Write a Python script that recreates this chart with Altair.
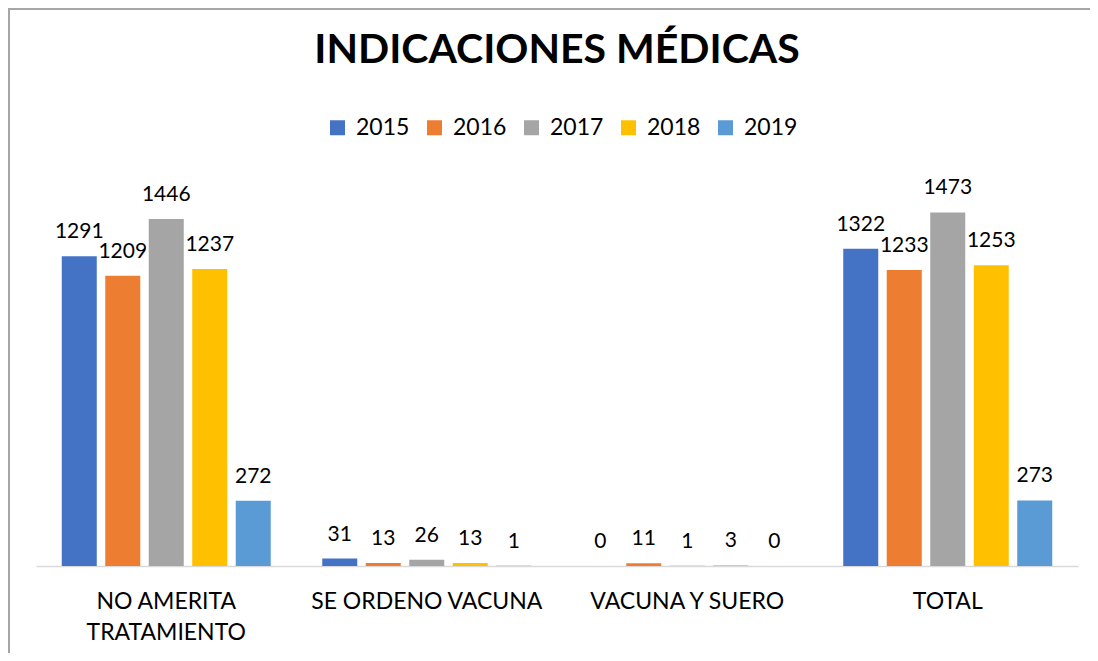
import altair as alt
import pandas as pd

title_text = "INDICACIONES MÉDICAS"
categories = ["NO AMERITA|TRATAMIENTO", "SE ORDENO VACUNA", "VACUNA Y SUERO", "TOTAL"]
years = ["2015", "2016", "2017", "2018", "2019"]
colors = ["#4472C4", "#ED7D31", "#A5A5A5", "#FFC000", "#5B9BD5"]
v2015 = [1291, 31, 0, 1322]
v2016 = [1209, 13, 11, 1233]
v2017 = [1446, 26, 1, 1473]
v2018 = [1237, 13, 3, 1253]
v2019 = [272, 1, 0, 273]

series = [v2015, v2016, v2017, v2018, v2019]
rows = []
for y, vals in zip(years, series):
    for c, v in zip(categories, vals):
        rows.append({"categoria": c, "anio": y, "valor": v})
df = pd.DataFrame(rows)

FONT = "Lato"

x_enc = alt.X("categoria:N", sort=categories,
              scale=alt.Scale(paddingInner=0, paddingOuter=0),
              axis=alt.Axis(title=None, ticks=False, domainColor="#d9d9d9", domainWidth=1.5,
                            labelFont=FONT, labelFontSize=23, labelColor="black",
                            labelAngle=0, labelPadding=24, labelLineHeight=31,
                            labelExpr="split(datum.label, '|')", labelLimit=300))
xo_enc = alt.XOffset("anio:N", sort=years,
                     scale=alt.Scale(paddingInner=0.195, paddingOuter=0.592))
y_enc = alt.Y("valor:Q", scale=alt.Scale(domain=[0, 1650], nice=False), axis=None)

base = alt.Chart(df)

bars = base.mark_bar().encode(
    x=x_enc, xOffset=xo_enc, y=y_enc,
    color=alt.Color("anio:N", sort=years,
                    scale=alt.Scale(domain=years, range=colors),
                    legend=alt.Legend(orient="none", direction="horizontal", legendX=290, legendY=-54,
                                      title=None, symbolType="square", symbolSize=225,
                                      symbolStrokeWidth=0, labelFont=FONT, labelFontSize=23,
                                      labelColor="black", labelOffset=7, columnPadding=13,
                                      padding=0)),
)

labels = base.mark_text(font=FONT, fontSize=21, color="black", baseline="alphabetic", dy=-18).encode(
    x=x_enc, xOffset=xo_enc, y=y_enc,
    text=alt.Text("valor:Q"),
)

border_top = alt.Chart(pd.DataFrame({"k": [0]})).mark_rule(color="#a6a6a6", strokeWidth=2).encode(
    x=alt.value(-28), x2=alt.value(1054), y=alt.value(-161))
border_left = alt.Chart(pd.DataFrame({"k": [0]})).mark_rule(color="#a6a6a6", strokeWidth=2).encode(
    x=alt.value(-27), y=alt.value(-162), y2=alt.value(483))

chart = alt.layer(border_top, border_left, bars, labels).properties(
    width=1042, height=396,
    title=alt.TitleParams(title_text, anchor="middle", font=FONT, fontSize=41, fontWeight="bold",
                          color="black", offset=0, baseline="alphabetic", dy=97),
    autosize=alt.AutoSizeParams(type="none"),
    padding={"left": 28, "top": 162, "right": 12, "bottom": 87},
).configure_view(stroke=None)

chart.save("out.html", embed_options={"renderer": "svg", "actions": False})
